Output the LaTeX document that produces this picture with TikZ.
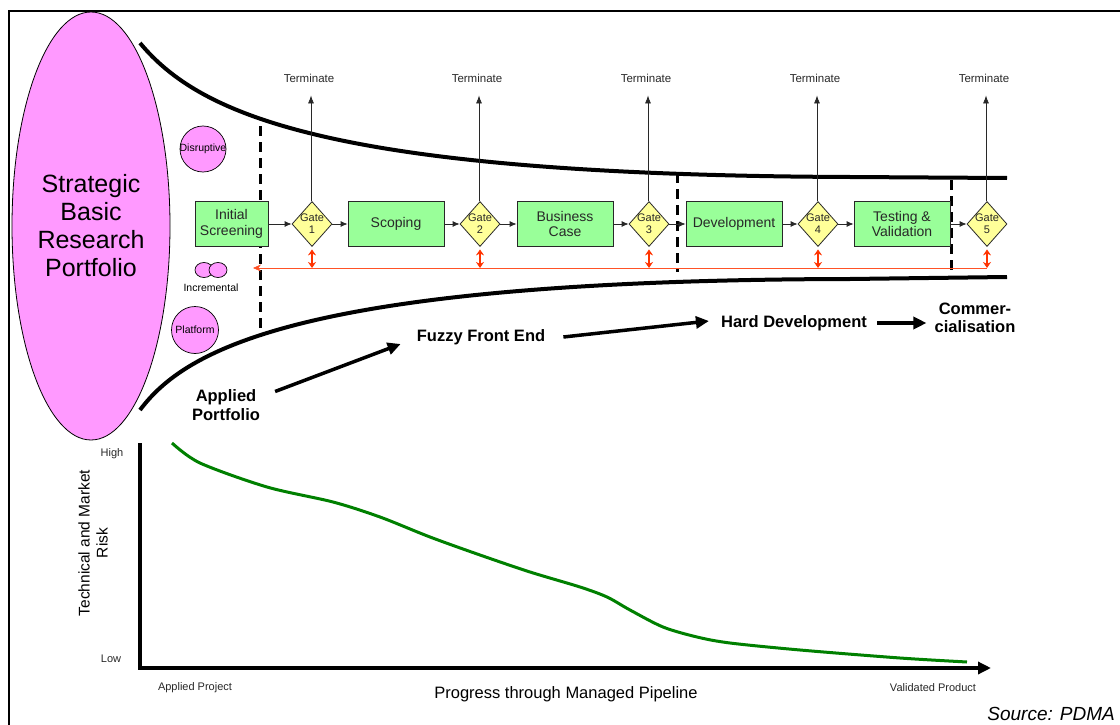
\documentclass[tikz,border=0pt]{standalone}
\usepackage{fontspec}
\setmainfont{Liberation Sans}
\usetikzlibrary{shapes.geometric,arrows.meta,calc}

\definecolor{portpink}{RGB}{255,153,255}
\definecolor{stagegreen}{RGB}{153,255,153}
\definecolor{gateyellow}{RGB}{255,255,153}
\definecolor{gatered}{RGB}{255,51,0}
\definecolor{riskgreen}{RGB}{0,128,0}
\definecolor{inkgray}{RGB}{40,40,40}

\tikzset{
  funnel/.style={line width=4pt, line cap=butt},
  phaseline/.style={line width=3pt, dash pattern=on 10pt off 6pt},
  stagebox/.style={draw=inkgray, line width=0.8pt, fill=stagegreen, minimum height=45pt,
    inner sep=0pt, align=center, text=inkgray, font=\fontsize{14}{15.5}\selectfont},
  gate/.style={diamond, draw=inkgray, line width=0.8pt, fill=gateyellow, minimum width=40pt,
    minimum height=45pt, inner sep=0pt},
  gatelbl/.style={align=center, inner sep=0pt, text=inkgray, font=\fontsize{11}{12}\selectfont},
  flow/.style={line width=0.8pt, draw=inkgray, -{Latex[length=7pt,width=6pt]}},
  termtxt/.style={inner sep=1pt, text=inkgray, font=\fontsize{11.5}{13}\selectfont},
  termarrow/.style={line width=0.7pt, draw=inkgray, -{Latex[length=8pt,width=6pt]}, shorten >=12pt},
  redarrow/.style={line width=1.3pt, draw=gatered, {Stealth[length=6pt,width=8pt]}-{Stealth[length=6pt,width=8pt]}},
  redline/.style={line width=0.7pt, draw=gatered!85, -{Stealth[length=8pt,width=7pt]}},
  kind/.style={draw=black, line width=0.7pt, fill=portpink, inner sep=0pt},
  kindtxt/.style={inner sep=0pt, font=\fontsize{10.5}{12}\selectfont},
  phase/.style={inner sep=0pt, align=center, font=\bfseries\fontsize{16.5}{18.5}\selectfont},
  bigarrow/.style={line width=3.5pt, -{Triangle[length=13pt,width=12pt]}},
  axis/.style={line width=4pt, -{Triangle[length=13pt,width=12pt]}},
  ticktxt/.style={inner sep=0pt, font=\fontsize{11}{13}\selectfont, text=inkgray},
}

\begin{document}
\begin{tikzpicture}[x=1pt,y=-1pt]
\useasboundingbox (0,0) rectangle (1120,725);

% outer frame (top and left edges)
\draw[line width=1.5pt] (9,725) -- (9,11) -- (1120,11);

% strategic portfolio
\node[ellipse, draw=black, line width=0.8pt, fill=portpink, minimum width=158pt,
  minimum height=428pt, inner sep=0pt, align=center,
  font=\fontsize{25}{28}\selectfont] (sbrp) at (91,226) {Strategic\\Basic\\Research\\Portfolio};

% funnel walls
\draw[funnel] (140,43) .. controls (200,115) and (330,175) .. (850,177) -- (1007,178);
\draw[funnel] (140,410) .. controls (185,350) and (300,280) .. (850,279) -- (1007,277);

% phase boundaries
\draw[phaseline] (260,126) -- (260,330);
\draw[phaseline] (677,173) -- (677,272);
\draw[phaseline] (951,180) -- (951,277);

% project kinds
\node[kind, circle, minimum size=46pt] (disr) at (203,149) {};
\node[kindtxt] (disrt) at (disr) {Disruptive};
\node[kind, ellipse, minimum width=18pt, minimum height=15pt] (inc1) at (204,270) {};
\node[kind, ellipse, minimum width=18pt, minimum height=15pt] (inc2) at (218,270) {};
\node[kindtxt] (inct) at (211,288) {Incremental};
\node[kind, circle, minimum size=47pt] (plat) at (195,330) {};
\node[kindtxt] (platt) at (plat) {Platform};

% stages
\node[stagebox, minimum width=73pt] (s1) at (231.5,224) {Initial\\Screening};
\node[stagebox, minimum width=96pt] (s2) at (396,224) {Scoping};
\node[stagebox, minimum width=96pt] (s3) at (565,224) {Business\\Case};
\node[stagebox, minimum width=96pt] (s4) at (734,224) {Development};
\node[stagebox, minimum width=96pt] (s5) at (902,224) {Testing \&\\Validation};

% gates
\foreach \n/\x in {1/312, 2/480, 3/649, 4/818, 5/987} {
  \node[gate] (g\n) at (\x,224) {};
  \node[gatelbl] (g\n t) at (g\n) {Gate\\\n};
  \node[termtxt] (t\n) at (\x-3,78) {Terminate};
  \draw[termarrow] ([xshift=-1pt]g\n.north) -- ([xshift=-1pt]g\n.north |- t\n.south);
}

% stage flow
\draw[flow] (s1.east) -- (g1.west);
\draw[flow] (g1.east) -- (s2.west);
\draw[flow] (s2.east) -- (g2.west);
\draw[flow] (g2.east) -- (s3.west);
\draw[flow] (s3.east) -- (g3.west);
\draw[flow] (g3.east) -- (s4.west);
\draw[flow] (s4.east) -- (g4.west);
\draw[flow] (g4.east) -- (s5.west);
\draw[flow] (s5.east) -- (g5.west);

% feedback to the portfolio
\coordinate (fbL) at (253,268);
\foreach \n in {1,...,5} {
  \draw[redarrow] ([yshift=-2.5pt]g\n.south) -- (g\n.south |- fbL);
}
\draw[redline] (g5.south |- fbL) -- (fbL);

% phases of the pipeline
\node[phase] (ap) at (226,405) {Applied\\Portfolio};
\node[phase] (ffe) at (481,337) {Fuzzy Front End};
\node[phase] (hd) at (794,323) {Hard Development};
\node[phase] (comm) at (975,318) {Commer-\\cialisation};
\draw[bigarrow] ([xshift=15pt,yshift=-2pt]ap.north east) -- ([xshift=-16pt,yshift=-7pt]ffe.west);
\draw[bigarrow] ([xshift=18pt]ffe.east) -- ([xshift=-12pt,yshift=2pt]hd.west);
\draw[bigarrow] ([xshift=10pt]hd.east) -- ([xshift=-8pt,yshift=-5pt]comm.west);

% risk chart
\coordinate (ytop) at (140,443);
\coordinate (orig) at (140,668);
\coordinate (xend) at (991,668);
\draw[axis] (ytop) -- (orig) -- (xend);
\draw[riskgreen, line width=3pt, line cap=butt] plot[smooth, tension=0.5] coordinates {
  (172,443) (200,463) (267,487) (333,502) (380,517) (430,537) (480,555) (530,572)
  (580,587) (607,597) (630,610) (663,627) (697,637) (730,643) (800,650) (900,658) (967,662)};

\node[ticktxt] (hi) at (112,454) {High};
\node[ticktxt] (lo) at (111,659) {Low};
\node[ticktxt] (xa) at (195,688) {Applied Project};
\node[ticktxt] (xb) at (933,688) {Validated Product};
\node[rotate=90, align=center, inner sep=0pt, font=\fontsize{15.5}{18}\selectfont] (ylab)
  at (93,543) {Technical and Market\\Risk};
\node[inner sep=0pt, font=\fontsize{16.5}{18}\selectfont] (xlab) at (566,694)
  {Progress through Managed Pipeline};
\node[inner sep=0pt, font=\itshape\fontsize{19}{21}\selectfont, anchor=east] (src) at (1115,714)
  {Source: PDMA};
\end{tikzpicture}
\end{document}
